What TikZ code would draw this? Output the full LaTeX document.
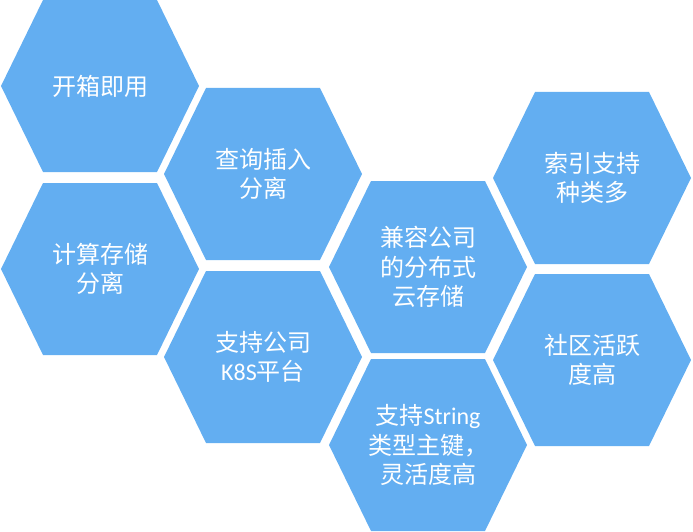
\documentclass[tikz,border=0pt]{standalone}
\usepackage{fontspec}
\setmainfont{Noto Sans CJK SC}
\newfontfamily\latinfont{Carlito}
\definecolor{hexblue}{RGB}{99,174,241}
% one hexagon with its label, centre at (#1,#2)
\newcommand{\hexcell}[4]{
  \fill[hexblue, shift={(#1,#2)}] (-99,0) -- (-57,-86) -- (57,-86) -- (99,0) -- (57,86) -- (-57,86) -- cycle;
  \node[celltext] (#3) at (#1,#2) {#4};}

\begin{document}
\begin{tikzpicture}[x=1pt, y=-1pt,
    celltext/.style={text=white, align=center, inner sep=0pt, font=\fontsize{24}{29.5}\selectfont}]
        \useasboundingbox (0,0) rectangle (693,532);
        % column 1
        \hexcell{100}{86}{kaixiang}{开箱即用}
        \hexcell{100}{269}{fenli}{计算存储\\分离}
        % column 2
        \hexcell{263}{174}{chaxun}{查询插入\\分离}
        \hexcell{263}{357}{kbs}{支持公司\\{\latinfont K8S}平台}
        % column 3
        \hexcell{428}{267}{jianrong}{兼容公司\\的分布式\\云存储}
        \hexcell{428}{445}{zhujian}{支持{\latinfont String}\\类型主键，\\灵活度高}
        % column 4
        \hexcell{592}{178}{suoyin}{索引支持\\种类多}
        \hexcell{592}{360}{shequ}{社区活跃\\度高}
\end{tikzpicture}
\end{document}
